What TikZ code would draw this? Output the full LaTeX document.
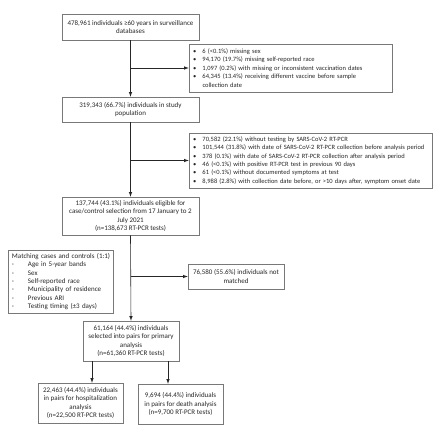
\documentclass[tikz,border=0pt]{standalone}
\usepackage{fontspec}
\setmainfont{Carlito}
\usepackage{tikz}
\usetikzlibrary{arrows}

\definecolor{boxgray}{RGB}{120,120,120}
\definecolor{txtgray}{RGB}{38,38,38}
\newcommand{\bul}[1]{\mbox{\makebox[9.5pt][l]{\textbullet}#1}}
\newcommand{\dsh}[1]{\mbox{\makebox[16pt][l]{-}#1}}

\begin{document}
\begin{tikzpicture}[x=1pt,y=-1pt,>=latex,
	box/.style={draw=boxgray,line width=.5pt,inner xsep=2.5pt,inner ysep=2pt,align=center,text=txtgray,
		font=\fontsize{7}{8.4}\selectfont},
	lbox/.style={box,align=left,inner xsep=4pt},
	small/.style={font=\fontsize{6.5}{8.4}\selectfont},
	flow/.style={->,line width=.6pt,draw=black!85}]
	\useasboundingbox (0,0) rectangle (440,434);
	% main column
	\node[box,minimum width=137pt,minimum height=26pt] (total) at (130.5,27) {478,961 individuals ≥60 years in surveillance\\databases};
	\node[box,minimum width=137pt,minimum height=25pt] (study) at (130.5,109.5) {319,343 (66.7\%) individuals in study\\population};
	\node[box,minimum width=137pt,minimum height=38pt] (elig) at (130.5,216) {137,744 (43.1\%) individuals eligible for\\case/control selection from 17 January to 2\\July 2021\\(n=138,673 RT-PCR tests)};
	\node[box,minimum width=96pt,minimum height=40pt] (pairs) at (131,341) {61,164 (44.4\%) individuals\\selected into pairs for primary\\analysis\\(n=61,360 RT-PCR tests)};
	\node[box,minimum width=85pt,minimum height=40pt] (hosp) at (80.5,403) {22,463 (44.4\%) individuals\\in pairs for hospitalization\\analysis\\(n=22,500 RT-PCR tests)};
	\node[box,minimum width=85pt,minimum height=40pt] (death) at (180.5,404) {9,694 (44.4\%) individuals\\in pairs for death analysis\\(n=9,700 RT-PCR tests)};
	% side boxes
	\node[lbox,small,text width=195pt,minimum height=48pt] (excl1) at (290.5,68) {\bul{6 (<0.1\%) missing sex}\\\bul{94,170 (19.7\%) missing self-reported race}\\\bul{1,097 (0.2\%) with missing or inconsistent vaccination dates}\\\bul{64,345 (13.4\%) receiving different vaccine before sample}\\\hspace*{9.5pt}collection date};
	\node[lbox,small,text width=235pt,minimum height=55pt] (excl2) at (310.5,160.5) {\bul{70,582 (22.1\%) without testing by SARS-CoV-2 RT-PCR}\\\bul{101,544 (31.8\%) with date of SARS-CoV-2 RT-PCR collection before analysis period}\\\bul{378 (0.1\%) with date of SARS-CoV-2 RT-PCR collection after analysis period}\\\bul{46 (<0.1\%) with positive RT-PCR test in previous 90 days}\\\bul{61 (<0.1\%) without documented symptoms at test}\\\bul{8,988 (2.8\%) with collection date before, or >10 days after, symptom onset date}};
	\node[box,minimum width=96pt,minimum height=25pt] (nomatch) at (236,276.5) {76,580 (55.6\%) individuals not\\matched};
	\node[lbox,text width=97pt,minimum height=63pt] (match) at (60.5,281.5) {\mbox{Matching cases and controls (1:1)}\\\dsh{Age in 5-year bands}\\\dsh{Sex}\\\dsh{Self-reported race}\\\dsh{Municipality of residence}\\\dsh{Previous ARI}\\\dsh{Testing timing (±3 days)}};
	% connectors
	\draw[flow] (total) -- (study);
	\draw[flow] (total.south |- excl1.west) -- (excl1.west);
	\draw[flow] (study) -- (elig);
	\draw[flow] (study.south |- excl2.west) -- (excl2.west);
	\draw[flow] (elig.south) -- (pairs.north);
	\draw[flow] (elig.south |- nomatch.west) -- (nomatch.west);
	\draw[flow] ([xshift=-39pt]pairs.south) -- ([xshift=-39pt]pairs.south |- hosp.north);
	\draw[flow] ([xshift=37pt]pairs.south) -- ([xshift=37pt]pairs.south |- death.north);
\end{tikzpicture}
\end{document}
